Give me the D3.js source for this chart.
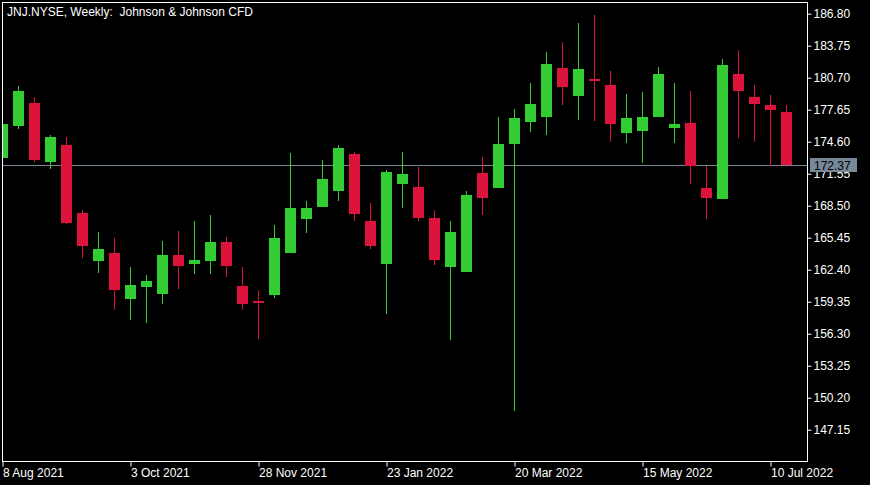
<!DOCTYPE html>
<html><head><meta charset="utf-8">
<script src="https://cdn.jsdelivr.net/npm/d3@7/dist/d3.min.js"></script>
<style>
html,body{margin:0;padding:0;background:#000;}
svg{display:block;}
text{font-family:"Liberation Sans",Arial,sans-serif;}
</style></head><body>
<svg id="chart" width="870" height="485"></svg>
<script>
// ---- data (weekly candles starting 8 Aug 2021) ----
const startWeek = "2021-08-08";
const opens  = [173.08,176.12,178.29,172.67,174.29,167.80,163.23,163.99,159.61,160.75,
                160.08,163.80,162.97,163.26,165.04,160.85,159.42,160.02,164.02,167.26,
                168.40,169.93,173.43,167.04,162.97,170.60,170.28,167.33,162.69,162.21,
                171.62,170.22,174.41,176.51,176.98,181.62,178.98,180.58,180.00,175.46,
                175.65,176.98,175.93,176.38,170.19,169.17,181.05,178.86,178.10,177.43];
const highs  = [176.48,179.91,178.86,175.24,175.05,168.09,165.99,165.42,162.66,161.90,
                165.14,166.09,167.04,167.61,165.52,162.66,160.47,166.66,173.52,168.95,
                172.86,174.29,173.62,168.76,171.90,173.62,172.19,168.09,167.04,169.90,
                173.14,176.95,177.72,180.19,183.15,184.10,185.91,186.68,181.34,179.15,
                179.34,181.72,180.19,179.43,172.31,182.48,183.34,180.00,179.05,178.10];
const lows   = [172.95,175.84,172.69,172.03,166.76,163.54,162.11,158.59,157.63,157.35,
                159.16,160.59,162.02,162.02,161.73,158.59,155.82,159.73,163.95,165.93,
                168.33,168.98,167.07,164.40,158.21,168.31,167.07,162.88,155.73,162.18,
                167.64,170.19,148.96,175.55,175.27,178.13,176.70,176.60,174.60,174.51,
                172.60,176.95,174.51,170.60,167.26,169.14,174.98,174.60,172.31,172.22];
const closes = [176.29,179.43,172.86,175.05,166.85,164.69,164.37,160.47,160.94,161.32,
                163.80,162.78,163.32,165.04,162.78,159.16,159.23,165.42,168.28,168.28,
                171.04,174.00,167.74,164.69,171.71,171.52,167.36,163.35,165.99,169.52,
                169.26,174.38,176.86,178.19,182.01,179.84,181.53,180.41,176.32,176.86,
                176.95,181.05,176.29,172.31,169.26,181.91,179.46,178.22,177.65,172.37];
const priceTicks = [186.80,183.75,180.70,177.65,174.60,171.55,168.50,165.45,162.40,159.35,156.30,153.25,150.20,147.15];
const dateTicks = ["2021-08-08","2021-10-03","2021-11-28","2022-01-23","2022-03-20","2022-05-15","2022-07-10"];
const lastPrice = 172.37;
const title = "JNJ.NYSE, Weekly:  Johnson & Johnson CFD";

// ---- layout ----
const plot = {left:2.5, top:2.5, right:807.5, bottom:461.5};
const UP = "#32cd32", DOWN = "#dc143c", FG = "#ffffff", CUR = "#778899";

const parse = d3.utcParse("%Y-%m-%d");
const t0 = parse(startWeek);
const dates = d3.utcWeek.range(t0, d3.utcDay.offset(t0, 7*opens.length)).slice(0, opens.length);
const candles = dates.map((d,i)=>({date:d, o:opens[i], h:highs[i], l:lows[i], c:closes[i]}));

const x = d3.scaleUtc()
  .domain([dates[0], dates[dates.length-1]])
  .range([2.5, 2.5 + 16*(dates.length-1)]);
const y = d3.scaleLinear().domain([144.17, 187.915]).range([461, 2]);

const svg = d3.select("#chart");
svg.append("rect").attr("width",870).attr("height",485).attr("fill","#000");

svg.append("defs").append("clipPath").attr("id","clip")
  .append("rect").attr("x",plot.left).attr("y",plot.top)
  .attr("width",plot.right-plot.left).attr("height",plot.bottom-plot.top);

const g = svg.append("g").attr("clip-path","url(#clip)");

// current price line
g.append("line")
  .attr("x1",plot.left).attr("x2",plot.right)
  .attr("y1",Math.round(y(lastPrice))+0.5).attr("y2",Math.round(y(lastPrice))+0.5)
  .attr("stroke",CUR).attr("stroke-width",1);

const bw = 11;
const cg = g.selectAll("g.c").data(candles).join("g").attr("class","c");
cg.append("line")
  .attr("x1",d=>Math.round(x(d.date)-0.5)+0.5).attr("x2",d=>Math.round(x(d.date)-0.5)+0.5)
  .attr("y1",d=>Math.round(y(d.h))).attr("y2",d=>Math.round(y(d.l)))
  .attr("stroke",d=>d.c>=d.o?UP:DOWN).attr("stroke-width",1);
cg.append("rect")
  .attr("x",d=>Math.round(x(d.date)-0.5)+0.5-bw/2)
  .attr("width",bw)
  .attr("y",d=>Math.round(y(Math.max(d.o,d.c))))
  .attr("height",d=>Math.max(2,Math.round(y(Math.min(d.o,d.c)))-Math.round(y(Math.max(d.o,d.c)))))
  .attr("fill",d=>d.c>=d.o?UP:DOWN);

// frame
svg.append("rect").attr("x",plot.left).attr("y",plot.top)
  .attr("width",plot.right-plot.left).attr("height",plot.bottom-plot.top)
  .attr("fill","none").attr("stroke",FG).attr("stroke-width",1);

// right price axis
const yAxis = d3.axisRight(y).tickValues(priceTicks).tickFormat(d3.format(".2f"))
  .tickSize(4).tickPadding(2);
const ya = svg.append("g").attr("transform",`translate(${plot.right},0)`).call(yAxis);
ya.select(".domain").remove();
ya.selectAll(".tick line").attr("stroke",FG);
ya.selectAll(".tick text").attr("fill",FG).attr("font-size","12px")
  .attr("font-family","'Liberation Sans',Arial,sans-serif");

// bottom date axis
const xAxis = d3.axisBottom(x).tickValues(dateTicks.map(parse))
  .tickFormat(d3.utcFormat("%-d %b %Y")).tickSize(5);
const xa = svg.append("g").attr("transform",`translate(0,${plot.bottom})`).call(xAxis);
xa.select(".domain").remove();
xa.selectAll(".tick line").attr("stroke",FG);
xa.selectAll(".tick text").attr("fill",FG).attr("font-size","12px")
  .attr("font-family","'Liberation Sans',Arial,sans-serif")
  .attr("text-anchor","start").attr("x",0).attr("y",15.5).attr("dy",0);

// last price label
const ly = y(lastPrice);
svg.append("rect").attr("x",810).attr("y",Math.round(ly)-7).attr("width",47).attr("height",14).attr("fill",CUR);
svg.append("text").attr("x",814).attr("y",Math.round(ly)+4.5)
  .attr("font-size","12px").attr("fill","#000").text(d3.format(".2f")(lastPrice));

// title
svg.append("text").attr("x",7).attr("y",16).attr("font-size","12px")
  .attr("fill",FG).style("white-space","pre").text(title);
</script>
</body></html>
